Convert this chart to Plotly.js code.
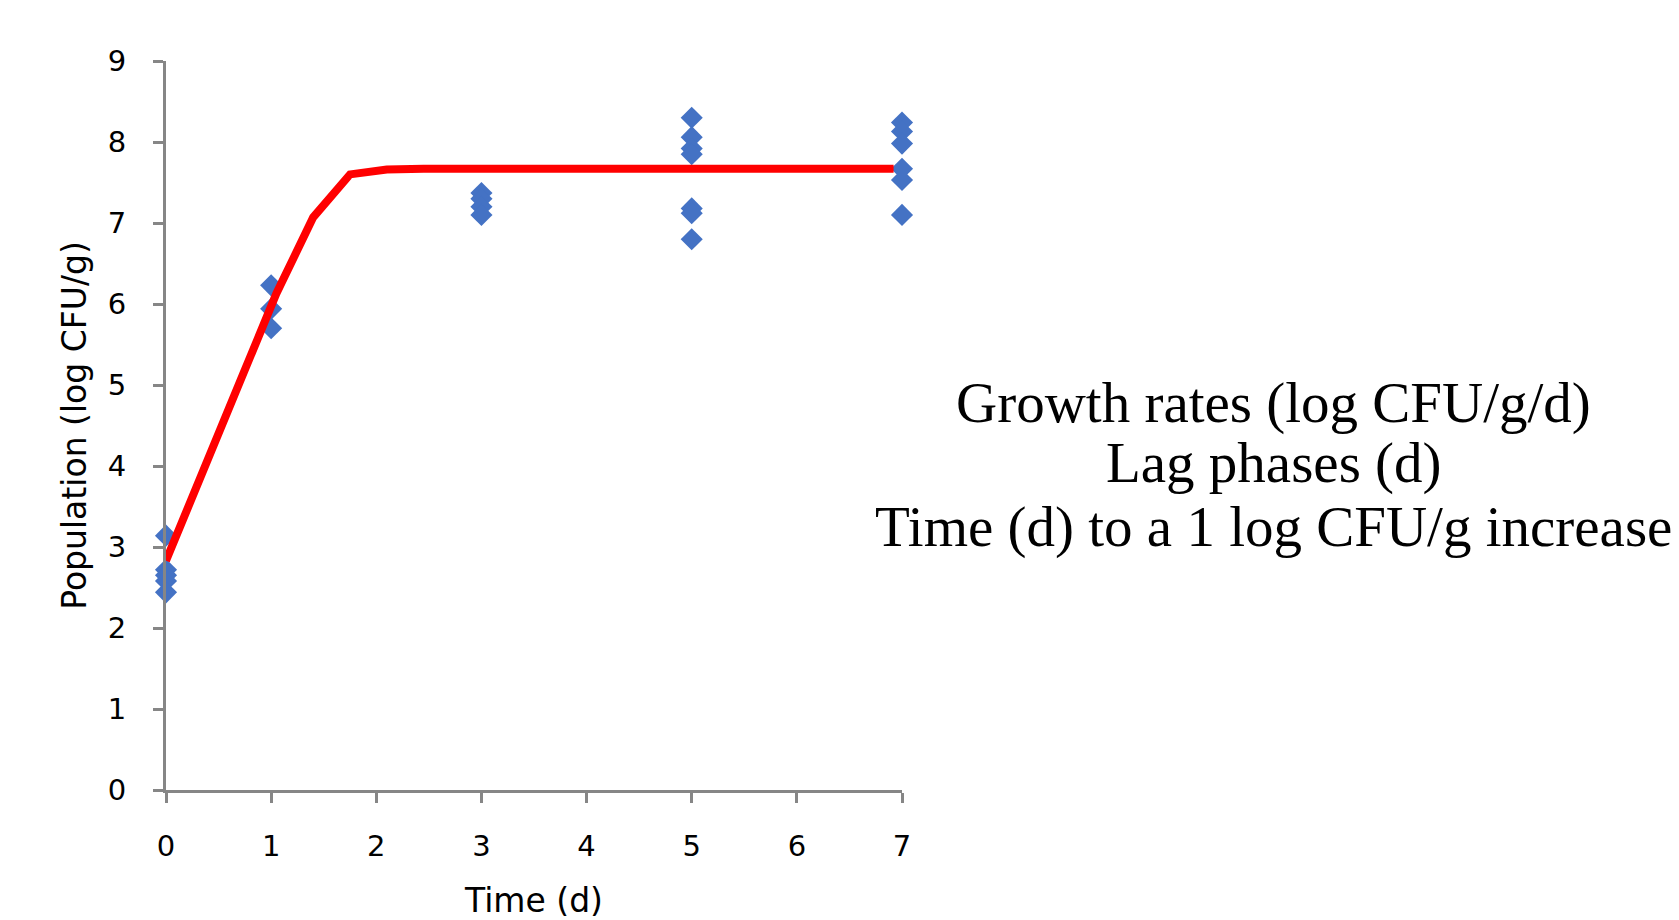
<!DOCTYPE html>
<html>
<head>
<meta charset="utf-8">
<script src="https://cdn.plot.ly/plotly-3.0.1.min.js"></script>
<style>
  html, body { margin: 0; padding: 0; background: #ffffff; }
  #chart { width: 1679px; height: 920px; }
</style>
</head>
<body>
<div id="chart"></div>
<script>
// Observed populations (log CFU/g) by sampling day
const obsTime = [0, 0, 0, 0, 0,
                 1, 1, 1,
                 3, 3, 3, 3,
                 5, 5, 5, 5, 5, 5, 5,
                 7, 7, 7, 7, 7, 7];
const obsPop  = [3.14, 2.72, 2.65, 2.58, 2.44,
                 6.23, 5.94, 5.70,
                 7.37, 7.30, 7.20, 7.10,
                 8.30, 8.06, 7.92, 7.85, 7.18, 7.12, 6.80,
                 8.24, 8.13, 7.98, 7.67, 7.53, 7.10];

// Fitted growth curve
const fitTime = [0, 0.35, 0.7, 1.05, 1.4, 1.75, 2.1, 2.45, 6.92];
const fitPop  = [2.83, 3.90, 5.03, 6.13, 7.07, 7.60, 7.66, 7.67, 7.67];

const xTicks = [0, 1, 2, 3, 4, 5, 6, 7];
const yTicks = [0, 1, 2, 3, 4, 5, 6, 7, 8, 9];

const sideLines = [
  "Growth rates (log CFU/g/d)",
  "Lag phases (d)",
  "Time (d) to a 1 log CFU/g increase"
];

const axisColor = '#868686';
const sansFont = '"DejaVu Sans", Verdana, sans-serif';

const traces = [
  {
    x: obsTime, y: obsPop,
    type: 'scatter', mode: 'markers',
    cliponaxis: false,
    marker: { symbol: 'diamond', size: 17, color: '#4472C4', line: { width: 0 } },
    hoverinfo: 'x+y', showlegend: false
  },
  {
    x: fitTime, y: fitPop,
    type: 'scatter', mode: 'lines',
    line: { color: '#FF0000', width: 8 },
    hoverinfo: 'x+y', showlegend: false
  }
];

const sideY = [0.531, 0.448, 0.361];
const annotations = sideLines.map((t, i) => ({
  text: t,
  xref: 'paper', yref: 'paper',
  x: 1.505, y: sideY[i],
  xanchor: 'center', yanchor: 'middle',
  showarrow: false,
  font: { family: '"Liberation Serif", "Times New Roman", serif', size: 57, color: '#000000' }
}));

const layout = {
  width: 1679, height: 920,
  margin: { l: 166, r: 777, t: 61, b: 130, pad: 0 },
  paper_bgcolor: '#ffffff', plot_bgcolor: '#ffffff',
  showlegend: false,
  font: { family: sansFont, color: '#000000' },
  xaxis: {
    range: [0, 7],
    tickvals: xTicks, ticktext: xTicks.map(String),
    showgrid: false, zeroline: false,
    showline: true, linecolor: axisColor, linewidth: 3,
    ticks: 'outside', ticklen: 10, tickwidth: 3, tickcolor: axisColor,
    ticklabelstandoff: 18,
    tickfont: { family: sansFont, size: 29, color: '#000000' },
    title: { text: 'Time (d)', font: { family: sansFont, size: 33, color: '#000000' }, standoff: 37 },
    fixedrange: true
  },
  yaxis: {
    range: [0, 9],
    tickvals: yTicks, ticktext: yTicks.map(String),
    showgrid: false, zeroline: false,
    showline: true, linecolor: axisColor, linewidth: 3,
    ticks: 'outside', ticklen: 10, tickwidth: 3, tickcolor: axisColor,
    ticklabelstandoff: 21,
    tickfont: { family: sansFont, size: 29, color: '#000000' },
    title: { text: 'Population (log CFU/g)', font: { family: sansFont, size: 33, color: '#000000' }, standoff: 12 },
    fixedrange: true
  },
  annotations: annotations
};

Plotly.newPlot('chart', traces, layout, { displayModeBar: false, staticPlot: true });
</script>
</body>
</html>
